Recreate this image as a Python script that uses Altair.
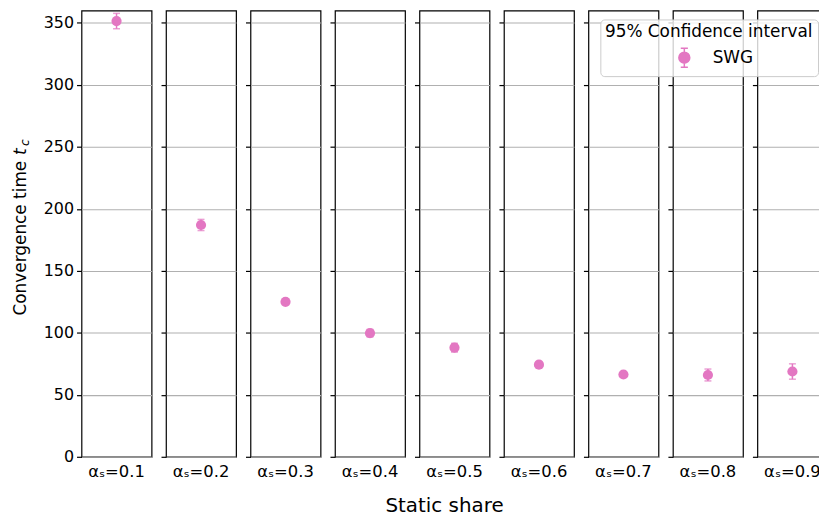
import altair as alt
import pandas as pd

# ---- data ----
alpha_values = ["0.1", "0.2", "0.3", "0.4", "0.5", "0.6", "0.7", "0.8", "0.9"]
mean_tc = [351.5, 187.0, 125.0, 99.7, 88.0, 74.3, 66.4, 66.0, 68.8]
ci_half = [6.2, 4.5, 2.0, 3.0, 3.5, 2.0, 2.0, 4.8, 6.2]
series_name = "SWG"
y_ticks = [0, 50, 100, 150, 200, 250, 300, 350]

PINK = "#e377c2"
FONT = "DejaVu Sans"
ERR_PATH = ("M-1,0A1,1,0,1,1,1,0A1,1,0,1,1,-1,0Z"
            "M0,-1.75L0,1.75M-0.65,-1.75L0.65,-1.75M-0.65,1.75L0.65,1.75")

df = pd.DataFrame({
    "label": [f"αₛ={a}" for a in alpha_values],
    "mean": mean_tc,
    "lo": [m - c for m, c in zip(mean_tc, ci_half)],
    "hi": [m + c for m, c in zip(mean_tc, ci_half)],
    "series": series_name,
})

yscale = alt.Scale(domain=[0, 360], nice=False, zero=False)

legend = alt.Legend(
    title="95% Confidence interval", orient="none", legendX=522, legendY=9,
    titleAnchor="middle", titleFont=FONT, titleFontSize=17, titleFontWeight="normal",
    titleColor="black", titlePadding=8, titleLimit=600,
    labelFont=FONT, labelFontSize=17, labelColor="black", labelOffset=20,
    symbolType=ERR_PATH, symbolSize=121, symbolStrokeColor=PINK,
    symbolStrokeWidth=1.5, symbolOpacity=1, symbolOffset=12,
    fillColor="rgba(255,255,255,0.8)", strokeColor="#cccccc", cornerRadius=4,
    padding=5,
)


def make_panel(i):
    d = df.iloc[[i]]
    first = i == 0
    base = alt.Chart(d)
    x = alt.X("label:N", title=None,
              axis=alt.Axis(labelAngle=0, ticks=False, domain=False, grid=False,
                            labelPadding=7, labelFontSize=16.5, labelFont=FONT,
                            labelColor="black"))
    yaxis = alt.Axis(values=y_ticks, grid=True, domain=False, ticks=True,
                     tickSize=5, tickColor="black", tickWidth=1.2,
                     labels=first, labelPadding=3, labelFont=FONT,
                     labelFontSize=16, labelColor="black",
                     gridColor="#b0b0b0", gridWidth=1.1)
    rule = base.mark_rule(color=PINK, strokeWidth=1.5).encode(
        x=x, y=alt.Y("lo:Q", scale=yscale, axis=yaxis, title=None), y2="hi:Q")
    cap_lo = base.mark_tick(color=PINK, orient="horizontal", size=7, thickness=1.5).encode(
        x=x, y=alt.Y("lo:Q", scale=yscale, axis=yaxis, title=None))
    cap_hi = base.mark_tick(color=PINK, orient="horizontal", size=7, thickness=1.5).encode(
        x=x, y=alt.Y("hi:Q", scale=yscale, axis=yaxis, title=None))
    pts = base.mark_point(filled=True, size=105, opacity=1).encode(
        x=x, y=alt.Y("mean:Q", scale=yscale, axis=yaxis, title=None),
        color=alt.Color("series:N", scale=alt.Scale(domain=[series_name], range=[PINK]),
                        legend=legend))
    layers = [rule, cap_lo, cap_hi, pts]
    if first:
        t1 = base.mark_text(text="Convergence time", angle=270, font=FONT, fontSize=17,
                            align="center", baseline="middle", color="black").encode(
            x=alt.value(-61), y=alt.value(229))
        t2 = base.mark_text(text="t", angle=270, font=FONT, fontSize=17, fontStyle="italic",
                            align="center", baseline="middle", color="black").encode(
            x=alt.value(-61), y=alt.value(142))
        t3 = base.mark_text(text="c", angle=270, font=FONT, fontSize=12, fontStyle="italic",
                            align="center", baseline="middle", color="black").encode(
            x=alt.value(-57), y=alt.value(133))
        layers += [t1, t2, t3]
    return alt.layer(*layers).properties(width=70.5, height=449)


chart = alt.hconcat(
    *[make_panel(i) for i in range(len(alpha_values))],
    spacing=14, bounds="flush",
    title=alt.TitleParams("Static share", orient="bottom", anchor="middle",
                          font=FONT, fontSize=20, fontWeight="normal",
                          color="black", offset=15, dx=25),
).properties(
    padding={"left": 11, "top": 8, "right": -10, "bottom": 1},
    background="white",
).configure_view(stroke="black", strokeWidth=1.2)

chart.save("out.html", embed_options={"renderer": "svg", "actions": False})
